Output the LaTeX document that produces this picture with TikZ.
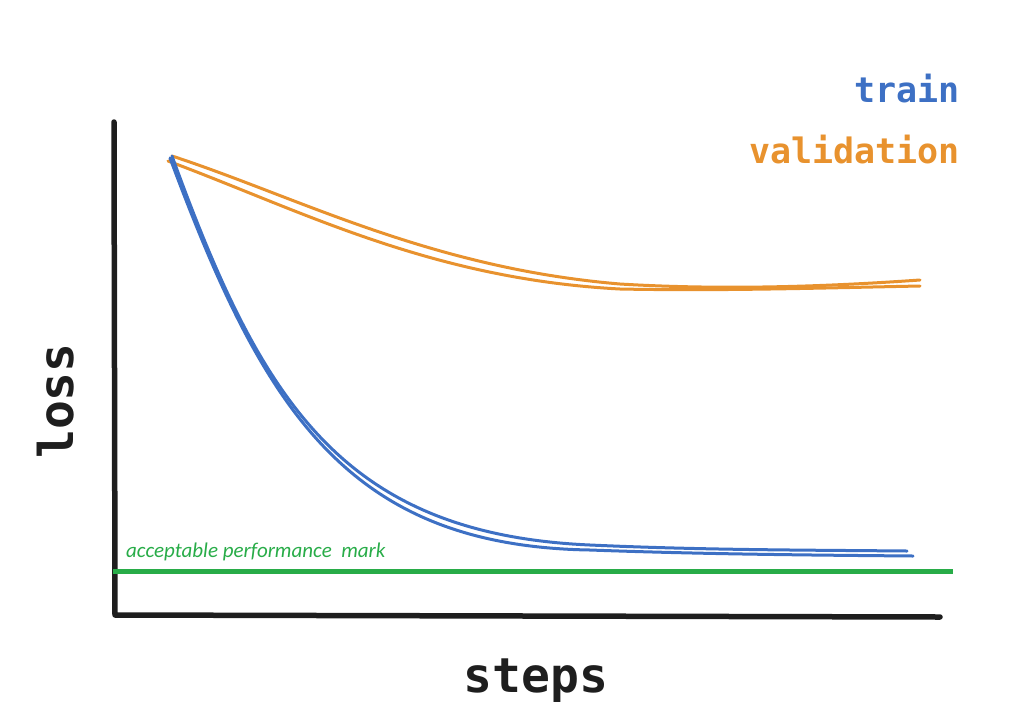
\documentclass[tikz,border=0pt]{standalone}
\usepackage{fontspec}
\setmonofont{DejaVu Sans Mono}
\newfontfamily\markfont{Carlito}
\usetikzlibrary{calc}
\definecolor{inkblack}{RGB}{30,30,30}
\definecolor{trainblue}{RGB}{61,112,196}
\definecolor{valorange}{RGB}{232,146,46}
\definecolor{markgreen}{RGB}{40,172,72}
\tikzset{
axisline/.style={draw=inkblack, line width=5.5pt, line cap=round, line join=round},
trainline/.style={draw=trainblue, line width=3pt, line cap=round},
valline/.style={draw=valorange, line width=3pt, line cap=round},
markline/.style={draw=markgreen, line width=5pt},
axislabel/.style={font=\ttfamily\bfseries\fontsize{48}{50}\selectfont, text=inkblack, inner sep=0pt},
legendlabel/.style={font=\ttfamily\bfseries\fontsize{35}{38}\selectfont, inner sep=0pt, anchor=base east}
}
\begin{document}
\begin{tikzpicture}[x=1pt, y=-1pt]
\useasboundingbox (0,0) rectangle (1028,721);
% axes
\coordinate (ytop) at (114,122);
\coordinate (origin) at (115,615);
\coordinate (xend) at (940,617);
\draw[axisline] (ytop) -- (origin) -- (xend);
\node[axislabel, anchor=base] (xlabel) at (536,692) {steps};
\node[axislabel, rotate=90, anchor=base] (ylabel) at (73,401) {loss};
% acceptable mark
\coordinate (markL) at (113,571);
\coordinate (markR) at (953,571);
\draw[markline] (markL) -- (markR);
\node[anchor=base west, inner sep=0pt, text=markgreen, font=\markfont\itshape\fontsize{21}{23}\selectfont] (marklabel) at (126,557) {acceptable performance\hspace{0.45em}mark};
% validation curve
\draw[valline] (172,156) .. controls (300,198) and (430,268) .. (620,284) .. controls (720,290) and (820,287) .. (920,280);
\draw[valline] (168,161) .. controls (300,210) and (430,279) .. (620,289) .. controls (720,291) and (820,288) .. (920,286);
% train curve
\draw[trainline] (172,156) .. controls (260,398) and (340,534) .. (590,545) .. controls (700,550) and (800,550) .. (907,551);
\draw[trainline] (170,158) .. controls (263,408) and (346,546) .. (590,550) .. controls (700,554) and (800,555) .. (913,556);
% legend
\node[legendlabel, text=trainblue] (lbltrain) at (960,102) {train};
\node[legendlabel, text=valorange] (lblval) at (960,163) {validation};
\end{tikzpicture}
\end{document}
